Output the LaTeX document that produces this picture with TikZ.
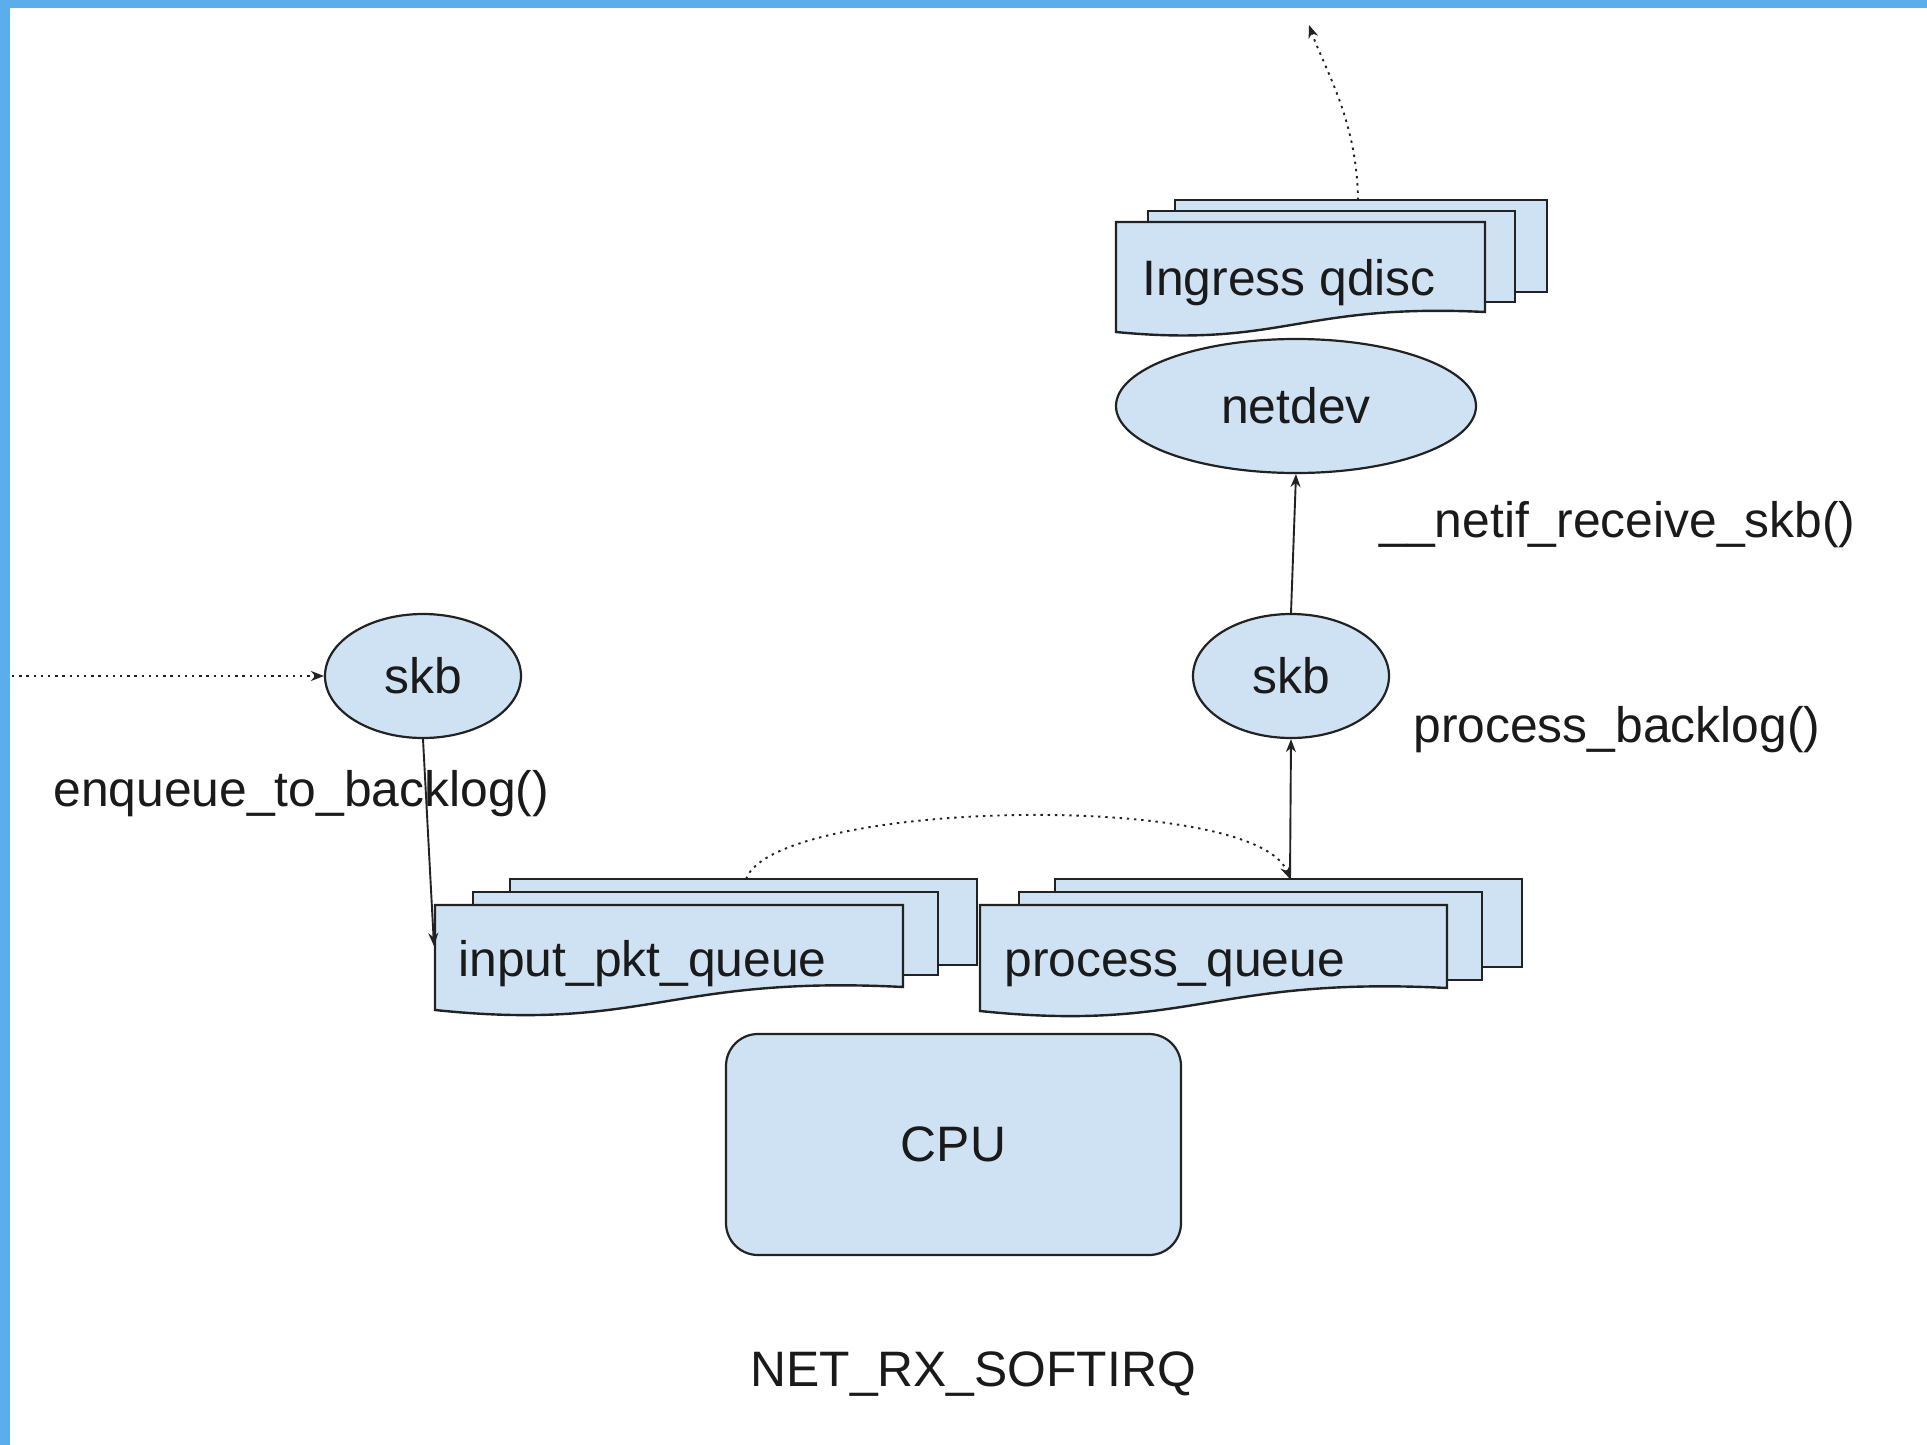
\documentclass[tikz,border=0pt]{standalone}
\usepackage{fontspec}
\setmainfont{Liberation Sans}
\usetikzlibrary{shapes.geometric,arrows.meta}
\definecolor{frameblue}{RGB}{91,174,236}
\definecolor{shapefill}{HTML}{CFE2F3}
\definecolor{inkline}{HTML}{222222}
\definecolor{inktext}{HTML}{1A1A1A}
\newcommand{\diagfont}{\fontsize{24.9}{30}\selectfont}

\begin{document}
\begin{tikzpicture}[x=0.5pt,y=-0.5pt,
  sheet/.style={fill=shapefill,draw=inkline,line width=1.2pt,line join=miter},
  bubble/.style={ellipse,fill=shapefill,draw=inkline,line width=1.1pt,
    inner sep=0pt,font=\diagfont,text=inktext},
  txt/.style={inner sep=0pt,font=\diagfont,text=inktext},
  link/.style={draw=inkline,line width=0.95pt,-{Stealth[length=6.5pt,width=5pt]}},
  dotlink/.style={link,dash pattern=on 1.2pt off 2.4pt},
]
% canvas and frame
\useasboundingbox (0,0) rectangle (1927,1445);
\fill[white] (0,0) rectangle (1927,1445);
\fill[frameblue] (0,0) rectangle (1927,8);
\fill[frameblue] (0,0) rectangle (10,1445);

% ingress qdisc stack
\filldraw[sheet] (1175,200) rectangle (1547,292);
\filldraw[sheet] (1148,211) rectangle (1515,302);
\filldraw[sheet] (1116,222) -- (1485,222) -- (1485,312)
  .. controls (1300,303) and (1282,348) .. (1116,332) -- cycle;
\node[txt,anchor=base west] (iq) at (1142,295) {Ingress qdisc};

% input_pkt_queue stack
\filldraw[sheet] (510,879) rectangle (977,965);
\filldraw[sheet] (473,892) rectangle (938,975);
\filldraw[sheet] (435,905) -- (903,905) -- (903,987)
  .. controls (669,975) and (646,1032) .. (435,1010) -- cycle;
\node[txt,anchor=base west] (inq) at (458,976) {input\_pkt\_queue};

% process_queue stack
\filldraw[sheet] (1055,879) rectangle (1522,967);
\filldraw[sheet] (1019,892) rectangle (1482,980);
\filldraw[sheet] (980,905) -- (1447,905) -- (1447,988)
  .. controls (1213,976) and (1190,1033) .. (980,1011) -- cycle;
\node[txt,anchor=base west] (pq) at (1004,976) {process\_queue};

% nodes
\node[bubble,minimum width=98pt,minimum height=62pt] (skbin) at (423,676) {skb};
\node[bubble,minimum width=98pt,minimum height=62pt] (skbout) at (1291,676) {skb};
\node[bubble,minimum width=180pt,minimum height=67pt] (netdev) at (1296,406) {netdev};
\node[draw=inkline,fill=shapefill,line width=1.1pt,rounded corners=16pt,
  minimum width=227.5pt,minimum height=110.5pt,inner sep=0pt,
  font=\diagfont,text=inktext] (cpu) at (953.5,1144.5) {CPU};

% connector end points
\coordinate (srcL) at (12,676);
\coordinate (inqEdge) at (434,946);
\coordinate (inqTop) at (746,879);
\coordinate (pqTop) at (1290,879);
\coordinate (iqTop) at (1358,200);
\coordinate (outTop) at (1309,25);

% connectors
\draw[dotlink] (srcL) -- (skbin.west);
\draw[link] (skbin.south) -- (inqEdge);
\draw[dotlink] (inqTop) .. controls (775,800) and (1255,790) .. (pqTop);
\draw[link] (pqTop) -- (skbout.south);
\draw[link] (skbout.north) -- (netdev.south);
\draw[dotlink] (iqTop) .. controls (1357,120) and (1325,70) .. (outTop);

% function labels
\node[txt,anchor=base west] (enq) at (53,806) {enqueue\_to\_backlog()};
\node[txt,anchor=base west] (pbl) at (1413,742) {process\_backlog()};
\node[txt,anchor=base west] (nrs) at (1379,537) {\_\_netif\_receive\_skb()};
\node[txt,anchor=base west] (softirq) at (750,1386) {NET\_RX\_SOFTIRQ};
\end{tikzpicture}
\end{document}
